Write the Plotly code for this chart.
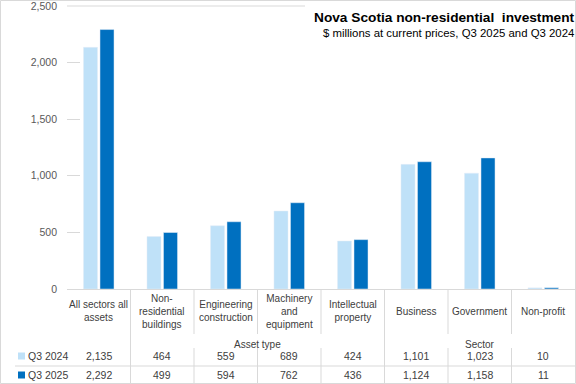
import plotly.graph_objects as go

categories = ["All sectors all<br>assets", "Non-<br>residential<br>buildings", "Engineering<br>construction",
              "Machinery<br>and<br>equipment", "Intellectual<br>property", "Business", "Government", "Non-profit"]
groups = [("Asset type", 1, 4), ("Sector", 5, 7)]
q3_2024 = [2135, 464, 559, 689, 424, 1101, 1023, 10]
q3_2025 = [2292, 499, 594, 762, 436, 1124, 1158, 11]
series_names = ["Q3 2024", "Q3 2025"]
y_ticks = [0, 500, 1000, 1500, 2000, 2500]

C_LIGHT = "#bfe1f8"
C_DARK = "#0070c0"
GRID = "#d9d9d9"
TXT = "#404040"
FONT = "Liberation Sans, Arial, sans-serif"

W, H = 576, 384
L, R, T, B = 67, 1, 6, 95
PW, PH = W - L - R, H - T - B
X0, Y0 = L, H - B  # pixel of plot left / bottom


def X(px):
    return (px - X0) / PW


def Y(py):
    return (Y0 - py) / PH


xs = list(range(len(categories)))
fig = go.Figure()
fig.add_bar(x=xs, y=q3_2024, name=series_names[0], marker_color=C_LIGHT)
fig.add_bar(x=xs, y=q3_2025, name=series_names[1], marker_color=C_DARK)

shapes = []
# chart border
shapes.append(dict(type="rect", xref="paper", yref="paper", x0=X(0.5), x1=X(575.5), y0=Y(0.5), y1=Y(383.5),
                   line=dict(color=GRID, width=1), layer="below"))
# top line at 2500
shapes.append(dict(type="line", xref="paper", yref="paper", x0=0, x1=X(305), y0=1, y1=1,
                   line=dict(color=GRID, width=1)))
# separators
boundaries = {0.5, 4.5}
for k in [0.5, 1.5, 2.5, 3.5, 4.5, 5.5, 6.5]:
    if k in boundaries:
        shapes.append(dict(type="line", xref="x", yref="paper", x0=k, x1=k, y0=Y(289), y1=Y(383),
                           line=dict(color=GRID, width=1)))
    else:
        shapes.append(dict(type="line", xref="x", yref="paper", x0=k, x1=k, y0=Y(289), y1=Y(334),
                           line=dict(color=GRID, width=1)))
        shapes.append(dict(type="line", xref="x", yref="paper", x0=k, x1=k, y0=Y(348), y1=Y(383),
                           line=dict(color=GRID, width=1)))
# table row separator
shapes.append(dict(type="line", xref="paper", yref="paper", x0=X(15), x1=X(575), y0=Y(366), y1=Y(366),
                   line=dict(color=GRID, width=1)))
# legend keys
for i, c in enumerate([C_LIGHT, C_DARK]):
    py = 356 + i * 19
    shapes.append(dict(type="rect", xref="paper", yref="paper", x0=X(18), x1=X(25), y0=Y(py - 3.5), y1=Y(py + 3.5),
                       line=dict(width=0), fillcolor=c))

ann = []
for i, c in enumerate(categories):
    ann.append(dict(x=i, y=Y(311), xref="x", yref="paper", text=c, showarrow=False,
                    font=dict(size=10, color=TXT, family=FONT), align="center", yanchor="middle"))
for name, a, b in groups:
    ann.append(dict(x=(a + b) / 2, y=Y(344), xref="x", yref="paper", text=name, showarrow=False,
                    font=dict(size=10, color=TXT, family=FONT), yanchor="middle"))
for r, vals in enumerate([q3_2024, q3_2025]):
    py = 356 + r * 19
    for i, v in enumerate(vals):
        ann.append(dict(x=i, y=Y(py), xref="x", yref="paper", text=f"{v:,}", showarrow=False,
                        font=dict(size=10.5, color=TXT, family=FONT), yanchor="middle"))
    ann.append(dict(x=X(26), y=Y(py), xref="paper", yref="paper", text=series_names[r], showarrow=False,
                    xanchor="left", font=dict(size=10.5, color=TXT, family=FONT), yanchor="middle"))
# title
ann.append(dict(x=X(577), y=Y(18), xref="paper", yref="paper", text="<b>Nova Scotia non-residential  investment</b>",
                showarrow=False, xanchor="right", yanchor="middle", font=dict(size=13.7, color="#000000", family=FONT)))
ann.append(dict(x=X(576), y=Y(33), xref="paper", yref="paper", text="$ millions at current prices, Q3 2025 and Q3 2024",
                showarrow=False, xanchor="right", yanchor="middle", font=dict(size=11.4, color="#000000", family=FONT)))

fig.update_layout(
    width=W, height=H, margin=dict(l=L, r=R, t=T, b=B, autoexpand=False),
    paper_bgcolor="white", plot_bgcolor="white",
    barmode="group", bargap=0.48, bargroupgap=0.15,
    showlegend=False, shapes=shapes, annotations=ann,
    xaxis=dict(range=[-0.5, 7.5], showticklabels=False, showgrid=False, zeroline=False, ticks="",
               showline=True, linecolor=GRID, linewidth=1, fixedrange=True),
    yaxis=dict(range=[0, 2500], tickvals=y_ticks, ticktext=[f"{v:,}" for v in y_ticks],
               showgrid=False, zeroline=False, ticks="inside", ticklen=13, tickcolor=GRID,
               ticklabelstandoff=9, ticklabeloverflow="allow",
               tickfont=dict(size=10.5, color="#595959", family=FONT),
               showline=False, fixedrange=True),
)
fig.write_html("out.html", config={"displayModeBar": False},
               post_script="document.body.style.margin='0';document.body.style.overflow='hidden';")
